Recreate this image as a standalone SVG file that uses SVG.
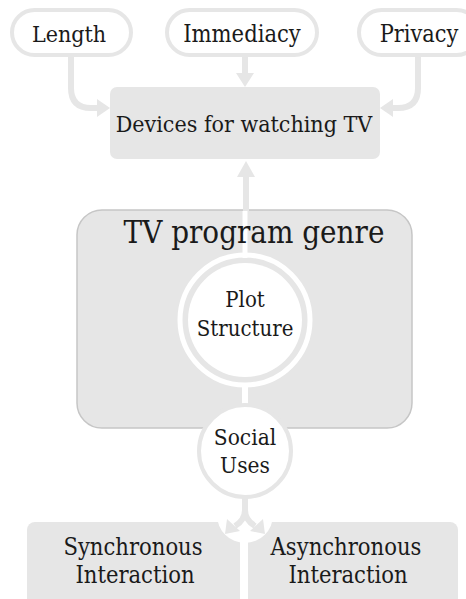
<svg xmlns="http://www.w3.org/2000/svg" width="466" height="599" viewBox="0 0 466 599">
  <style>
    text { font-family: "DejaVu Serif Condensed", "DejaVu Serif", "Liberation Serif", serif; font-stretch: condensed; fill: #1a1a1a; text-anchor: middle; }
    .pill { fill: #ffffff; stroke: #e6e6e6; stroke-width: 4; }
    .box { fill: #e6e6e6; }
    .link { fill: none; stroke: #e6e6e6; stroke-width: 6; }
    .head { fill: #e6e6e6; }
    .gap { fill: none; stroke: #ffffff; }
  </style>
  <rect width="466" height="599" fill="#ffffff"/>

  <!-- bottom interaction boxes, with a white notch where the fork lands -->
  <g id="sync">
    <rect class="box" x="27" y="522" width="213" height="90" rx="8"/>
    <text x="133" y="555" font-size="23.5">Synchronous</text>
    <text x="135" y="583" font-size="23.5">Interaction</text>
  </g>
  <g id="async">
    <rect class="box" x="248" y="522" width="210" height="90" rx="8"/>
    <text x="346" y="555" font-size="23.5">Asynchronous</text>
    <text x="348" y="583" font-size="23.5">Interaction</text>
  </g>
  <circle cx="245" cy="515" r="28" fill="#ffffff"/>

  <!-- genre container -->
  <g id="genre">
    <rect x="77" y="210" width="335" height="218" rx="25" fill="#e6e6e6" stroke="#c6c6c6" stroke-width="1.5"/>
    <line class="gap" x1="245" y1="211" x2="245" y2="258" stroke-width="5"/>
    <line class="gap" x1="245" y1="385" x2="245" y2="410" stroke-width="6"/>
    <text x="254" y="243" font-size="31">TV program genre</text>
  </g>

  <g id="plot">
    <circle cx="245" cy="320" r="65" fill="none" stroke="#ffffff" stroke-width="5"/>
    <circle cx="245" cy="320" r="57" fill="#ffffff"/>
    <text x="245" y="307" font-size="22">Plot</text>
    <text x="245" y="336" font-size="22">Structure</text>
  </g>

  <g id="social">
    <circle cx="245" cy="451" r="46" fill="#ffffff" stroke="#e6e6e6" stroke-width="4"/>
    <text x="245" y="445" font-size="22.5">Social</text>
    <text x="245" y="473" font-size="22.5">Uses</text>
  </g>

  <!-- top factor pills -->
  <g id="length">
    <rect class="pill" x="12" y="10" width="119" height="45" rx="22.5"/>
    <text x="69" y="42" font-size="23">Length</text>
  </g>
  <g id="immediacy">
    <rect class="pill" x="167" y="10" width="150" height="45" rx="22.5"/>
    <text x="242" y="42" font-size="23.5">Immediacy</text>
  </g>
  <g id="privacy">
    <rect class="pill" x="359" y="10" width="120" height="45" rx="22.5"/>
    <text x="419" y="42" font-size="23.3">Privacy</text>
  </g>

  <g id="devices">
    <rect class="box" x="110" y="87" width="270" height="72" rx="7"/>
    <text x="244" y="132" font-size="23">Devices for watching TV</text>
  </g>

  <!-- connectors -->
  <g id="connectors">
    <path class="link" d="M71,57 V88 Q71,108 91,108 H99"/>
    <polygon class="head" points="110,108 97,99 97,117"/>
    <path class="link" d="M418,57 V88 Q418,108 398,108 H391"/>
    <polygon class="head" points="380,108 393,99 393,117"/>
    <path class="link" d="M245,57 V75"/>
    <polygon class="head" points="245,87 236,73 254,73"/>
    <path class="link" d="M246,211 V175"/>
    <polygon class="head" points="246,161 237,177 255,177"/>
    <path class="link" d="M245,498 V512 M245,510 Q245,520 235,526 M245,510 Q245,520 255,526"/>
    <polygon class="head" points="225,534 227,519 240,531"/>
    <polygon class="head" points="265,534 263,519 250,531"/>
  </g>
</svg>
